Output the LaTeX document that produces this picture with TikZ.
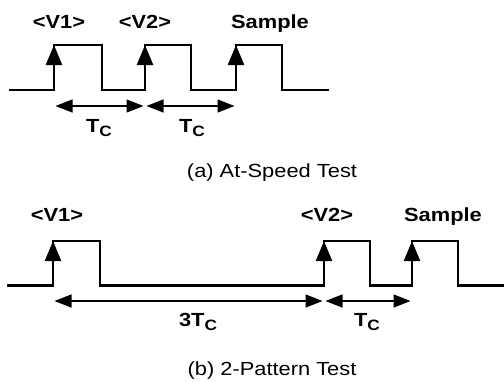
\documentclass[tikz,border=0pt]{standalone}
\usepackage{fontspec}
\setmainfont{Liberation Sans}
\usepackage{graphicx}
\usetikzlibrary{arrows.meta}
\newcommand{\mywide}[1]{\scalebox{1.15}[1]{#1}}
\newcommand{\myTc}{T\raisebox{-4pt}{\fontsize{15}{16}\selectfont C}}
\begin{document}
\begin{tikzpicture}[x=1pt,y=-1pt,
  wave/.style={line width=2.4pt, line join=miter},
  uparr/.style={line width=2.4pt, -{Triangle[width=16pt,length=20pt]}},
  dimarr/.style={line width=1.3pt, {Triangle[width=13pt,length=17pt]}-{Triangle[width=13pt,length=17pt]}, shorten <=1.5pt, shorten >=1.5pt},
  lbl/.style={anchor=base, inner sep=0pt, font=\fontsize{19}{20}\selectfont\bfseries},
  captxt/.style={anchor=base, inner sep=0pt, font=\fontsize{19}{20}\selectfont}]
\useasboundingbox (0,0) rectangle (504,381);
% ---------- (a) At-Speed Test ----------
\coordinate (a0) at (9,90);
\coordinate (a1b) at (54,90);  \coordinate (a1t) at (54,45);
\coordinate (a1f) at (102,45);
\coordinate (a2b) at (145,90); \coordinate (a2t) at (145,45);
\coordinate (a2f) at (191,45);
\coordinate (a3b) at (236,90); \coordinate (a3t) at (236,45);
\coordinate (a3f) at (282,45);
\coordinate (aend) at (329,90);
\draw[wave] (a0) -- (a1b) -- (a1t) -- (a1f) -- (a1f |- a0) -- (a2b) -- (a2t) -- (a2f) -- (a2f |- a0) -- (a3b) -- (a3t) -- (a3f) -- (a3f |- a0) -- (aend);
\draw[uparr] (a1b) -- (a1t);
\draw[uparr] (a2b) -- (a2t);
\draw[uparr] (a3b) -- (a3t);
\coordinate (ad1) at (54,106);
\coordinate (ad2) at (145,106);
\coordinate (ad3) at (236,106);
\draw[dimarr] (ad1) -- (ad2);
\draw[dimarr] (ad2) -- (ad3);
\node[lbl] (av1) at (59,28) {\mywide{<V1>}};
\node[lbl] (av2) at (145,28) {\mywide{<V2>}};
\node[lbl] (asm) at (270,28) {\mywide{Sample}};
\node[lbl] (atc1) at (99,132) {\mywide{\myTc}};
\node[lbl] (atc2) at (192,132) {\mywide{\myTc}};
\node[captxt] (acap) at (272,177) {\mywide{(a) At-Speed Test}};
% ---------- (b) 2-Pattern Test ----------
\coordinate (b0) at (7,285.5);
\coordinate (b1b) at (53,285.5);  \coordinate (b1t) at (53,241);
\coordinate (b1f) at (100,241);
\coordinate (b2b) at (324,285.5); \coordinate (b2t) at (324,241);
\coordinate (b2f) at (370,241);
\coordinate (b3b) at (412,285.5); \coordinate (b3t) at (412,241);
\coordinate (b3f) at (458,241);
\coordinate (bend) at (504,285.5);
\draw[wave] (b0) -- (b1b) -- (b1t) -- (b1f) -- (b1f |- b0) -- (b2b) -- (b2t) -- (b2f) -- (b2f |- b0) -- (b3b) -- (b3t) -- (b3f) -- (b3f |- b0) -- (bend);
\draw[uparr] (b1b) -- (b1t);
\draw[uparr] (b2b) -- (b2t);
\draw[uparr] (b3b) -- (b3t);
\coordinate (bd1) at (53,301);
\coordinate (bd2) at (324,301);
\coordinate (bd3) at (412,301);
\draw[dimarr] (bd1) -- (bd2);
\draw[dimarr] (bd2) -- (bd3);
\node[lbl] (bv1) at (57,221) {\mywide{<V1>}};
\node[lbl] (bv2) at (327,221) {\mywide{<V2>}};
\node[lbl] (bsm) at (443,221) {\mywide{Sample}};
\node[lbl] (btc1) at (198,326) {\mywide{3\myTc}};
\node[lbl] (btc2) at (367,326) {\mywide{\myTc}};
\node[captxt] (bcap) at (272,375) {\mywide{(b) 2-Pattern Test}};
\end{tikzpicture}
\end{document}
